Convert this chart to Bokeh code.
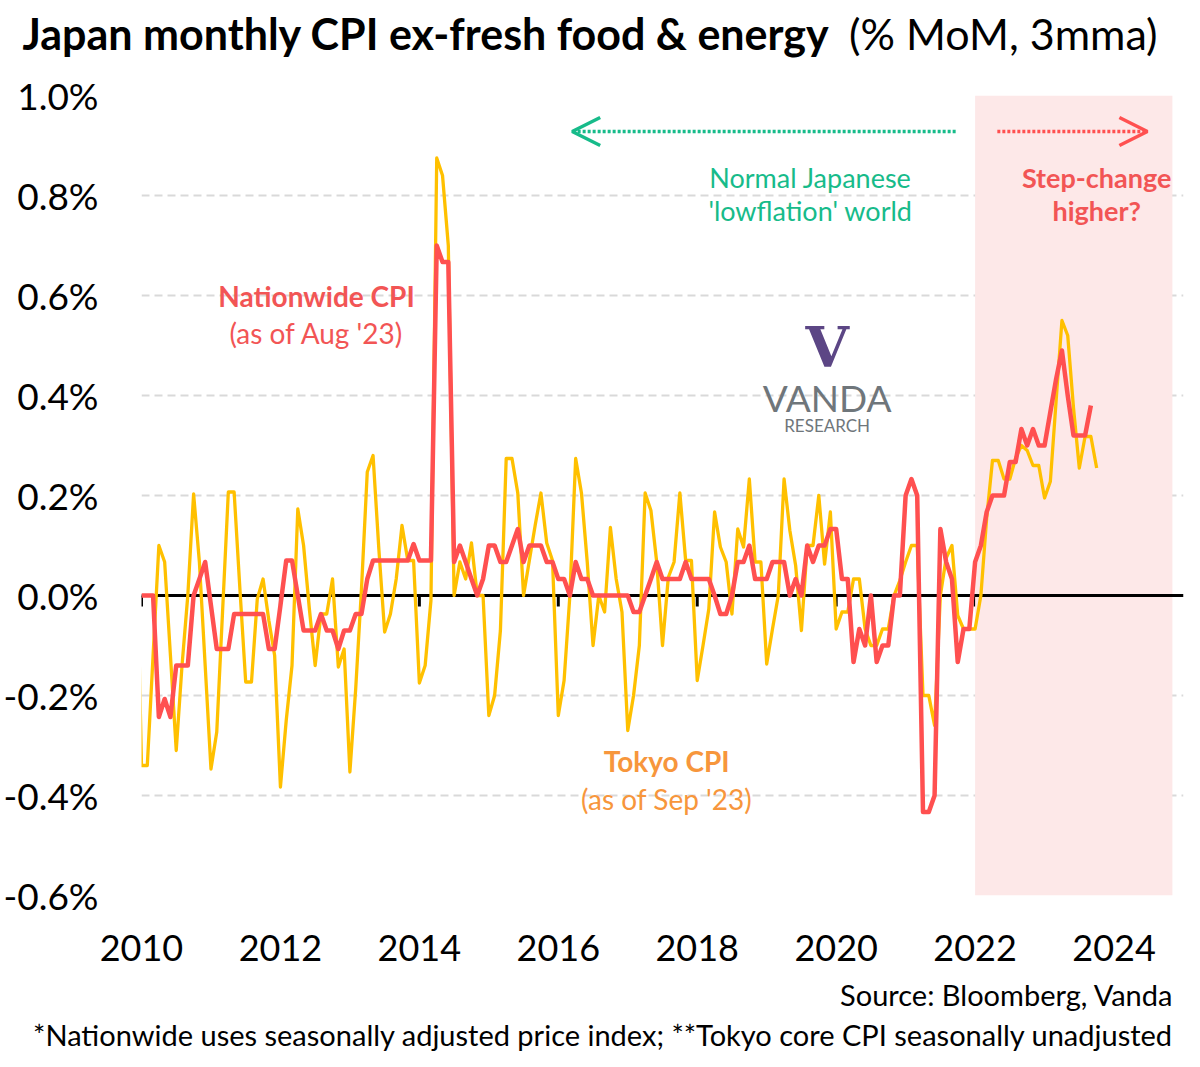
import pandas as pd
from bokeh.plotting import figure
from bokeh.layouts import column
from bokeh.models import (Label, Arrow, OpenHead, BoxAnnotation, FixedTicker,
                          PrintfTickFormatter, ColumnDataSource, Span)
from bokeh.embed import file_html
from bokeh.resources import INLINE

# Nationwide core-core CPI, % MoM 3mma, Dec 2009 .. Aug 2023
nationwide_cpi = [
    0.0, 0.0, 0.0, -0.243, -0.207, -0.243, -0.14, -0.14, -0.14, 0.0, 0.033, 0.067,
    -0.02, -0.107, -0.107, -0.107, -0.037, -0.037, -0.037, -0.037, -0.037, -0.037, -0.107, -0.107,
    -0.02, 0.07, 0.07, 0.0, -0.07, -0.07, -0.07, -0.037, -0.07, -0.07, -0.107, -0.07,
    -0.07, -0.037, -0.037, 0.033, 0.07, 0.07, 0.07, 0.07, 0.07, 0.07, 0.07, 0.103,
    0.07, 0.07, 0.07, 0.70, 0.667, 0.667, 0.067, 0.1, 0.067, 0.033, 0.0, 0.033,
    0.1, 0.1, 0.067, 0.067, 0.1, 0.133, 0.067, 0.1, 0.1, 0.1, 0.067, 0.067,
    0.033, 0.033, 0.0, 0.067, 0.033, 0.033, 0.0, 0.0, 0.0, 0.0, 0.0, 0.0,
    0.0, -0.033, -0.033, 0.0, 0.033, 0.067, 0.033, 0.033, 0.033, 0.033, 0.067, 0.033,
    0.033, 0.033, 0.033, 0.0, -0.037, -0.037, 0.0, 0.067, 0.067, 0.1, 0.033, 0.033,
    0.033, 0.067, 0.067, 0.067, 0.0, 0.033, 0.0, 0.1, 0.067, 0.1, 0.1, 0.133,
    0.133, 0.033, 0.033, -0.133, -0.067, -0.1, 0.0, -0.133, -0.1, -0.1, 0.0, 0.0,
    0.2, 0.233, 0.2, -0.433, -0.433, -0.4, 0.133, 0.067, 0.033, -0.133, -0.067, -0.067,
    0.067, 0.1, 0.167, 0.2, 0.2, 0.2, 0.267, 0.267, 0.333, 0.3, 0.333, 0.3,
    0.3, 0.367, 0.433, 0.49, 0.4, 0.32, 0.32, 0.32, 0.38,
]

# Tokyo core-core CPI, % MoM 3mma, Nov 2009 .. Sep 2023
tokyo_cpi = [
    0.2,
    -0.34, -0.34, -0.12, 0.1, 0.067, -0.12, -0.31, -0.14, 0.0, 0.203, 0.067, -0.14,
    -0.347, -0.273, -0.033, 0.207, 0.207, 0.013, -0.173, -0.173, -0.007, 0.033, -0.05, -0.12,
    -0.383, -0.25, -0.14, 0.173, 0.1, -0.027, -0.14, -0.037, -0.037, 0.033, -0.143, -0.107,
    -0.353, -0.187, 0.013, 0.247, 0.28, 0.093, -0.073, -0.037, 0.033, 0.14, 0.07, 0.07,
    -0.175, -0.14, -0.01, 0.875, 0.84, 0.70, 0.0, 0.067, 0.033, 0.105, 0.0, 0.0,
    -0.24, -0.2, -0.07, 0.274, 0.274, 0.205, 0.0, 0.07, 0.14, 0.205, 0.105, 0.07,
    -0.24, -0.17, 0.0, 0.274, 0.205, 0.067, -0.1, 0.0, -0.033, 0.136, 0.033, -0.033,
    -0.27, -0.2, -0.1, 0.205, 0.17, 0.067, -0.1, 0.036, 0.067, 0.205, 0.07, 0.07,
    -0.17, -0.1, -0.027, 0.167, 0.097, 0.067, -0.037, 0.133, 0.097, 0.233, 0.067, 0.067,
    -0.137, -0.067, 0.0, 0.233, 0.13, 0.06, -0.07, 0.1, 0.1, 0.2, 0.063, 0.167,
    -0.067, -0.033, -0.033, 0.033, 0.033, -0.067, -0.1, -0.1, -0.067, -0.067, 0.0, 0.03,
    0.067, 0.1, 0.1, -0.2, -0.2, -0.26, 0.0, 0.075, 0.1, -0.04, -0.067, -0.067,
    -0.067, 0.0, 0.155, 0.27, 0.27, 0.233, 0.233, 0.275, 0.3, 0.29, 0.26, 0.26,
    0.195, 0.228, 0.39, 0.55, 0.52, 0.375, 0.255, 0.318, 0.318, 0.255,
]

year_ticks = [2010, 2012, 2014, 2016, 2018, 2020, 2022, 2024]
pct_ticks = [-0.6, -0.4, -0.2, 0.0, 0.2, 0.4, 0.6, 0.8, 1.0]

# month-end positions as decimal years
nat_months = pd.date_range("2009-12-01", periods=len(nationwide_cpi), freq="MS")
tok_months = pd.date_range("2009-11-01", periods=len(tokyo_cpi), freq="MS")
nat_src = ColumnDataSource(dict(x=nat_months.year + nat_months.month / 12, y=nationwide_cpi))
tok_src = ColumnDataSource(dict(x=tok_months.year + tok_months.month / 12, y=tokyo_cpi))

FONT = "Lato"
RED = "#ff5050"
TXT_RED = "#f25555"
ORANGE = "#f7963c"
GREEN = "#17bb8a"
YELLOW = "#ffc000"
W = 1184
HEAD_H, MAIN_H, FOOT_H = 62, 908, 81


def label(fig, x, y, text, size, color, bold=False, align="center", font=FONT):
    fig.add_layout(Label(x=x, y=y, text=text, text_font=font, text_font_size=size,
                         text_color=color, text_align=align, text_baseline="middle",
                         text_font_style="bold" if bold else "normal"))


def text_strip(height):
    # blank pixel-space figure used for the header and footer texts
    f = figure(width=W, height=height, x_range=(0, W), y_range=(0, height),
               x_axis_type=None, y_axis_type=None, output_backend="svg",
               toolbar_location=None, min_border=0, frame_align=False)
    f.grid.visible = False
    f.outline_line_color = None
    return f


# header
head = text_strip(HEAD_H)
label(head, 22, HEAD_H - 33, "Japan monthly CPI ex-fresh food & energy", "43px", "black", bold=True, align="left")
label(head, 1157, HEAD_H - 33, "(% MoM, 3mma)", "43px", "black", align="right")

# main chart
p = figure(width=W, height=MAIN_H, x_range=(2010, 2025), y_range=(-0.6, 1.0),
           output_backend="svg", toolbar_location=None, frame_align=False,
           min_border_left=137, min_border_right=1, min_border_top=33, min_border_bottom=75)
p.outline_line_color = None

p.add_layout(BoxAnnotation(left=2022.0, right=2024.84, fill_color="#fde8e8",
                           fill_alpha=1.0, line_color=None, level="underlay"))

p.xgrid.visible = False
p.ygrid.ticker = FixedTicker(ticks=[t for t in pct_ticks if t != 0])
p.ygrid.grid_line_color = "#d9d9d9"
p.ygrid.grid_line_width = 2
p.ygrid.grid_line_dash = "8 5"

p.yaxis.ticker = FixedTicker(ticks=pct_ticks)
p.yaxis.formatter = PrintfTickFormatter(format="%.1f%%")
p.yaxis.axis_line_color = None
p.yaxis.major_tick_line_color = None
p.yaxis.minor_tick_line_color = None
p.yaxis.major_label_text_font = FONT
p.yaxis.major_label_text_font_size = "37px"
p.yaxis.major_label_text_color = "black"
p.yaxis.major_label_standoff = 37

p.xaxis.ticker = FixedTicker(ticks=year_ticks)
p.xaxis.axis_line_color = None
p.xaxis.major_tick_line_color = None
p.xaxis.minor_tick_line_color = None
p.xaxis.major_label_text_font = FONT
p.xaxis.major_label_text_font_size = "36px"
p.xaxis.major_label_text_color = "black"
p.xaxis.major_label_standoff = 33

# zero line with downward year ticks
p.add_layout(Span(location=0, dimension="width", line_color="black", line_width=3, level="underlay"))
p.segment(x0=year_ticks, y0=[0] * len(year_ticks), x1=year_ticks, y1=[-0.022] * len(year_ticks),
          line_color="black", line_width=3, level="underlay")

p.line("x", "y", source=tok_src, line_color=YELLOW, line_width=3.3, line_join="round")
p.line("x", "y", source=nat_src, line_color=RED, line_width=4.5, line_join="round")

label(p, 2012.52, 0.60, "Nationwide CPI", "28px", TXT_RED, bold=True)
label(p, 2012.52, 0.526, "(as of Aug '23)", "28px", TXT_RED)
label(p, 2017.56, -0.33, "Tokyo CPI", "28px", ORANGE, bold=True)
label(p, 2017.56, -0.406, "(as of Sep '23)", "28px", ORANGE)
label(p, 2019.63, 0.836, "Normal Japanese", "27px", GREEN)
label(p, 2019.63, 0.77, "'lowflation' world", "27px", GREEN)
label(p, 2023.75, 0.836, "Step-change", "27px", TXT_RED, bold=True)
label(p, 2023.75, 0.77, "higher?", "27px", TXT_RED, bold=True)

p.add_layout(Arrow(end=OpenHead(size=28, line_color=GREEN, line_width=3.5),
                   x_start=2021.72, y_start=0.928, x_end=2016.2, y_end=0.928,
                   line_color=GREEN, line_width=3.5, line_dash="3 2"))
p.add_layout(Arrow(end=OpenHead(size=28, line_color=RED, line_width=3.5),
                   x_start=2022.32, y_start=0.928, x_end=2024.48, y_end=0.928,
                   line_color=RED, line_width=3.5, line_dash="3 2"))

# logo
label(p, 2019.87, 0.497, "V", "56px", "#5c4685", bold=True, font="DejaVu Serif")
label(p, 2019.87, 0.397, "VANDA", "37px", "#6f767b")
label(p, 2019.87, 0.34, "RESEARCH", "17px", "#6f767b")

# footer
foot = text_strip(FOOT_H)
label(foot, 1173, FOOT_H - 24, "Source: Bloomberg, Vanda", "29px", "black", align="right")
label(foot, 1173, FOOT_H - 64, "*Nationwide uses seasonally adjusted price index; **Tokyo core CPI seasonally unadjusted",
      "29px", "black", align="right")

page = column(head, p, foot, spacing=0)
open("out.html", "w").write(file_html(page, INLINE))
